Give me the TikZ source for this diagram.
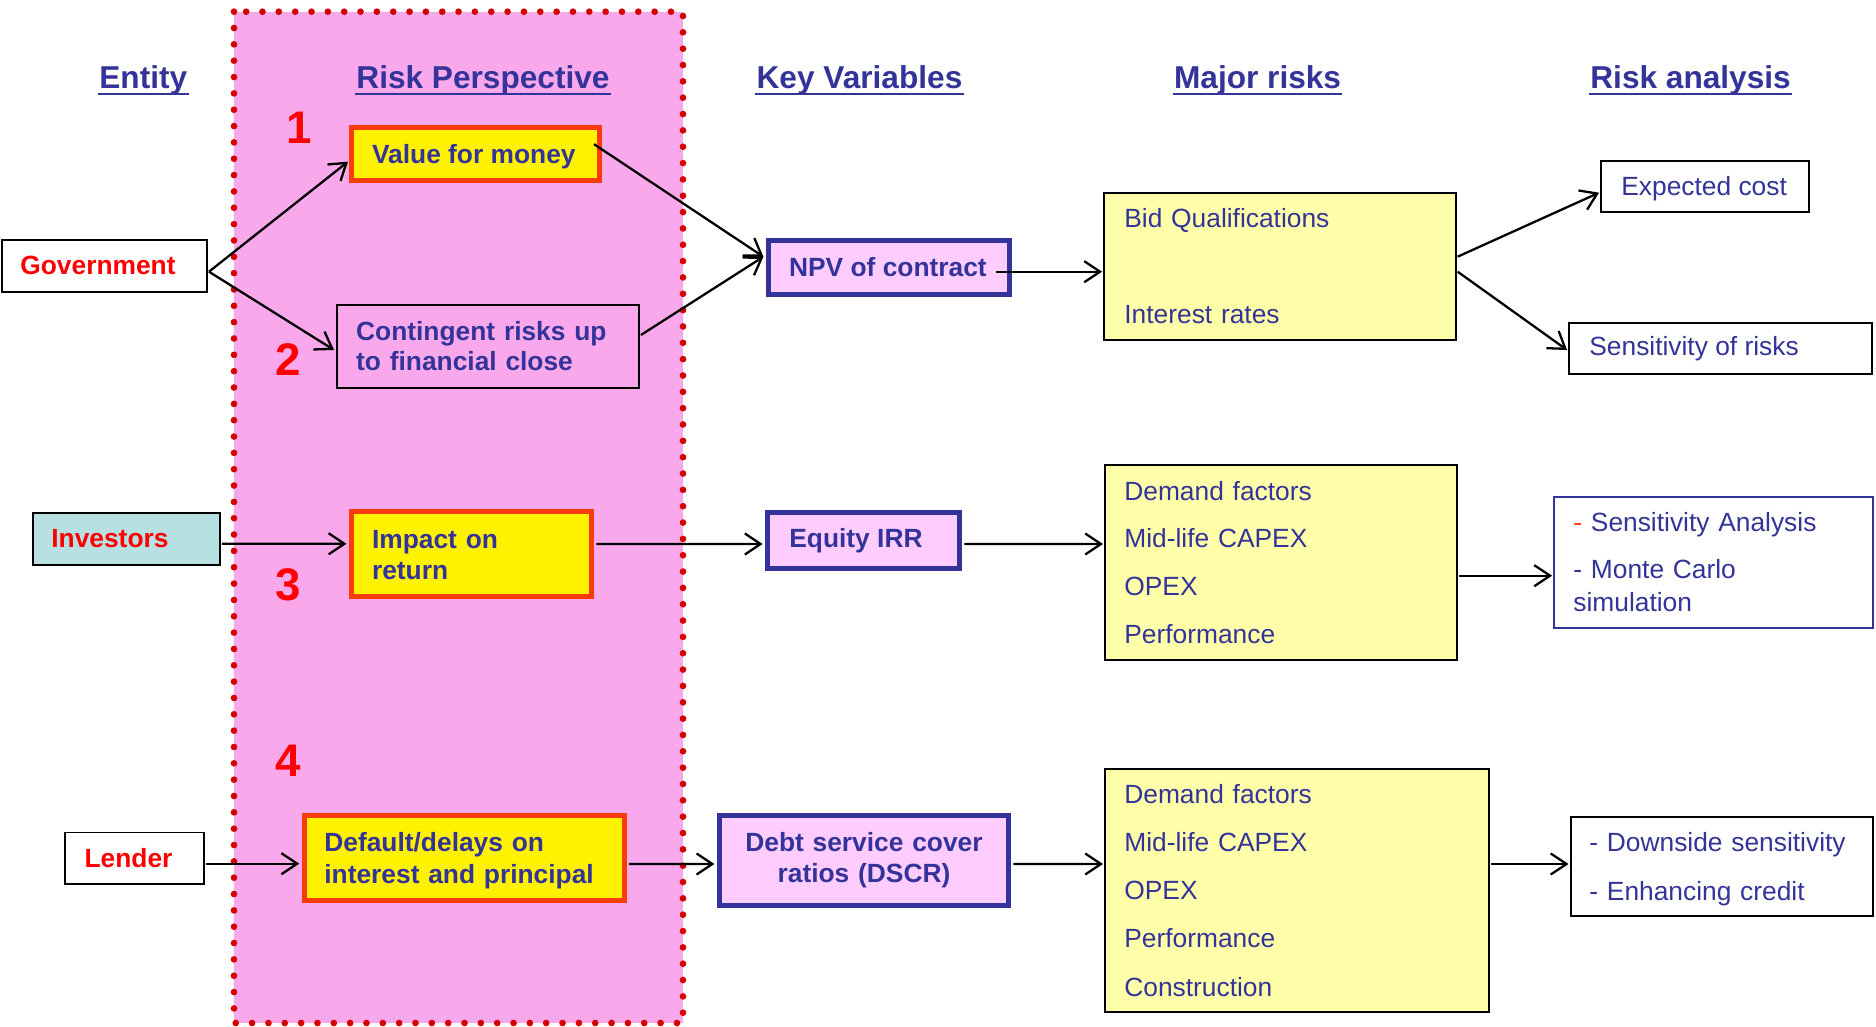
\documentclass[tikz,border=0pt]{standalone}
\usepackage{fontspec}
\setmainfont{Liberation Sans}
\usetikzlibrary{arrows.meta}

\definecolor{navy}{RGB}{51,51,153}
\definecolor{hotorange}{RGB}{250,60,10}
\definecolor{panelpink}{RGB}{249,168,236}
\definecolor{dotred}{RGB}{212,0,0}
\definecolor{keypink}{RGB}{255,204,255}
\definecolor{paleyellow}{RGB}{255,255,170}
\definecolor{investcyan}{RGB}{183,224,227}
\definecolor{entityred}{RGB}{255,0,0}

\newcommand{\fbold}{\fontsize{15}{18}\selectfont\bfseries}
\newcommand{\fplain}{\fontsize{15}{18}\selectfont}

\begin{document}
\begin{tikzpicture}[x=0.02cm,y=-0.02cm,
  thinbox/.style={rectangle, draw=black, line width=1.1pt, inner sep=0pt, fill=white},
  hotbox/.style={rectangle, draw=hotorange, fill=yellow, line width=2.85pt, inner sep=0pt},
  keybox/.style={rectangle, draw=navy, fill=keypink, line width=3pt, inner sep=0pt},
  riskbox/.style={thinbox, fill=paleyellow},
  lbl/.style={inner sep=0pt, anchor=base west, text=navy, font=\fbold},
  plainlbl/.style={lbl, font=\fplain},
  entlbl/.style={lbl, text=entityred},
  hdr/.style={inner sep=0pt, anchor=base, text=navy, font=\fontsize{18}{22}\selectfont\bfseries},
  hdrline/.style={draw=navy, line width=1.3pt},
  num/.style={inner sep=0pt, anchor=base, text=entityred, font=\fontsize{26}{30}\selectfont\bfseries},
  conn/.style={line width=1.3pt, -{Straight Barb[length=9pt,width=12pt]}}
]
\useasboundingbox (0,0) rectangle (1876,1027);

% risk perspective panel
\path[fill=panelpink] (234,11.7) rectangle (683,1023);
\draw[dotred, line width=3.8pt, line cap=round, dash pattern=on 0pt off 9.3pt]
  (234,11.7) rectangle (683,1023);

% column headings
\node[hdr] (hEnt) at (143.3,89) {Entity};
\node[hdr] (hRP)  at (483,89) {Risk Perspective};
\node[hdr] (hKV)  at (859.5,89) {Key Variables};
\node[hdr] (hMR)  at (1257.6,89) {Major risks};
\node[hdr] (hRA)  at (1690.6,89) {Risk analysis};
\foreach \h in {hEnt,hRP,hKV,hMR,hRA}
  \draw[hdrline] ([shift={(-1,5)}]\h.base west) -- ([shift={(1,5)}]\h.base east);

% perspective numbers
\node[num] (n1) at (298.7,143.3) {1};
\node[num] (n2) at (288,375) {2};
\node[num] (n3) at (288,600.7) {3};
\node[num] (n4) at (288,776.7) {4};

% entities
\node[thinbox, minimum width=4.10cm, minimum height=1.04cm] (gov) at (104.5,266) {};
\node[entlbl] (govT) at (20,275) {Government};
\node[thinbox, fill=investcyan, minimum width=3.74cm, minimum height=1.04cm] (inv) at (126.5,539) {};
\node[entlbl] (invT) at (51,547.8) {Investors};
\node[thinbox, minimum width=2.78cm, minimum height=1.03cm] (lend) at (134.5,858.25) {};
\node[entlbl] (lendT) at (84.2,867) {Lender};

% risk perspectives
\node[hotbox, minimum width=4.954cm, minimum height=1.066cm] (vfm) at (475.35,154.15) {};
\node[lbl] (vfmT) at (371.7,163.3) {Value for money};
\node[thinbox, fill=panelpink, minimum width=6.046cm, minimum height=1.66cm] (cont) at (487.85,346.5) {};
\node[lbl, text width=6cm, font=\fontsize{15}{17.5}\selectfont\bfseries] (contT) at (355.8,340)
  {Contingent risks up\\to financial close};
\node[hotbox, minimum width=4.8cm, minimum height=1.7cm] (imp) at (471.5,554) {};
\node[lbl, text width=4cm] (impT) at (371.7,548.3) {Impact on\\return};
\node[hotbox, minimum width=6.4cm, minimum height=1.7cm] (def) at (464.2,858) {};
\node[lbl, text width=6cm] (defT) at (324,851.7) {Default/delays on\\interest and principal};

% key variables
\node[keybox, minimum width=4.82cm, minimum height=1.074cm] (npv) at (889,267.35) {};
\node[lbl] (npvT) at (788.7,276) {NPV of contract};
\node[keybox, minimum width=3.828cm, minimum height=1.124cm] (eq) at (863.5,540.4) {};
\node[lbl] (eqT) at (789,547.8) {Equity IRR};
\node[keybox, minimum width=5.774cm, minimum height=1.8cm] (dscr) at (863.85,860.5) {};
\node[lbl, anchor=base, text width=5.6cm, align=center, font=\fontsize{15}{17.6}\selectfont\bfseries] (dscrT) at (864,851.7)
  {Debt service cover\\ratios (DSCR)};

% major risks
\node[riskbox, minimum width=7.034cm, minimum height=2.94cm] (bid) at (1279.85,266.5) {};
\node[plainlbl, text width=6.5cm, font=\fontsize{15}{27.2}\selectfont] (bidT) at (1124,227.7)
  {Bid Qualifications\\[27.2pt]Interest rates};
\node[riskbox, minimum width=7.034cm, minimum height=3.9cm] (mid) at (1280.85,562.5) {};
\node[plainlbl, text width=6.5cm, font=\fontsize{15}{27.15}\selectfont] (midT) at (1124,500)
  {Demand factors\\Mid-life CAPEX\\OPEX\\Performance};
\node[riskbox, minimum width=7.68cm, minimum height=4.866cm] (bot) at (1297,890.35) {};
\node[plainlbl, text width=7cm, font=\fontsize{15}{27.5}\selectfont] (botT) at (1124,803)
  {Demand factors\\Mid-life CAPEX\\OPEX\\Performance\\Construction};

% risk analysis
\node[thinbox, minimum width=4.16cm, minimum height=1.02cm] (exp) at (1705,186.5) {};
\node[plainlbl] (expT) at (1621,196) {Expected cost};
\node[thinbox, minimum width=6.06cm, minimum height=1.02cm] (sor) at (1720.5,348.5) {};
\node[plainlbl] (sorT) at (1589,355) {Sensitivity of risks};
\node[thinbox, draw=navy, minimum width=6.38cm, minimum height=2.62cm] (sa) at (1713.5,562.5) {};
\node[plainlbl, text width=6cm, font=\fontsize{15}{18.6}\selectfont] (saT) at (1573,531.7)
  {{\color{hotorange}-} Sensitivity Analysis\\[8.3pt]- Monte Carlo\\simulation};
\node[thinbox, minimum width=6.05cm, minimum height=1.986cm] (down) at (1721.75,866.35) {};
\node[plainlbl, text width=6cm, font=\fontsize{15}{27.5}\selectfont] (downT) at (1589,851.7)
  {- Downside sensitivity\\- Enhancing credit};

% connectors
\draw[conn] ([shift={(1,5.7)}]gov.east) -- ([shift={(-1,7.5)}]vfm.west);
\draw[conn] ([shift={(1,5.7)}]gov.east) -- ([shift={(-1.7,3.5)}]cont.west);
\draw[conn] ([shift={(-7.7,-10)}]vfm.east) -- ([shift={(-2.5,-10.6)}]npv.west);
\draw[conn] ([shift={(1,-11.5)}]cont.east) -- ([shift={(-2.5,-10.6)}]npv.west);
\draw[conn] ([shift={(-16.5,4.35)}]npv.east) -- ([shift={(-1,5.2)}]bid.west);
\draw[conn] ([shift={(1,-9.8)}]bid.east) -- ([shift={(-1,6.2)}]exp.west);
\draw[conn] ([shift={(1,5.2)}]bid.east) -- ([shift={(-1,1.5)}]sor.west);

\draw[conn] ([shift={(1,4.8)}]inv.east) -- ([shift={(-2.5,-10.2)}]imp.west);
\draw[conn] ([shift={(2.5,-10)}]imp.east) -- ([shift={(-2.5,3.6)}]eq.west);
\draw[conn] ([shift={(2.5,3.6)}]eq.east) -- ([shift={(-1,-18.5)}]mid.west);
\draw[conn] ([shift={(1,13.2)}]mid.east) -- ([shift={(-1,13.2)}]sa.west);

\draw[conn] ([shift={(1,5.45)}]lend.east) -- ([shift={(-2.5,5.7)}]def.west);
\draw[conn] ([shift={(2.5,6)}]def.east) -- ([shift={(-2.5,3.5)}]dscr.west);
\draw[conn] ([shift={(2.5,3.5)}]dscr.east) -- ([shift={(-1,-26.35)}]bot.west);
\draw[conn] ([shift={(1,-26.35)}]bot.east) -- ([shift={(-1,-2.35)}]down.west);
\end{tikzpicture}
\end{document}
